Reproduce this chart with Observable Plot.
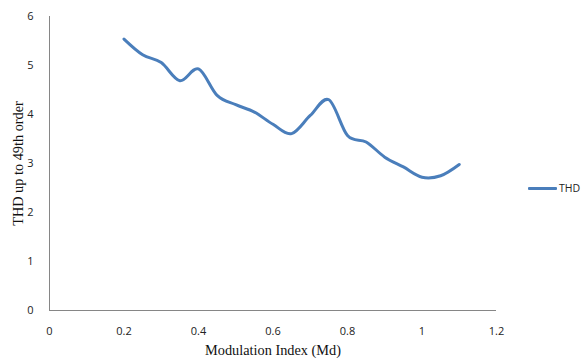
<!DOCTYPE html>
<html>
<head>
<meta charset="utf-8">
<script src="https://cdn.jsdelivr.net/npm/d3@7"></script>
<script src="https://cdn.jsdelivr.net/npm/@observablehq/plot@0.6"></script>
<style>
  html, body { margin: 0; padding: 0; background: #fff; }
  #wrap { position: relative; width: 584px; height: 358px; }
  #wrap svg { font-family: "Open Sans", "Liberation Sans", sans-serif; }
  [aria-label="y-axis label"] text, [aria-label="x-axis label"] text {
    font-family: "Liberation Serif", "DejaVu Serif", serif; font-size: 14.3px; fill: #111;
  }
  #legend { position: absolute; left: 528px; top: 181px; display: flex; align-items: center;
    font-family: "Open Sans", "Liberation Sans", sans-serif; font-size: 10.5px; color: #222; }
  #legend .sw { width: 29px; height: 3px; background: #4a7ebb; margin-right: 2px; border-radius: 1px; }
</style>
</head>
<body>
<div id="wrap"><div id="legend"><div class="sw"></div><span>THD</span></div></div>
<script>
const modIndex = [0.2, 0.25, 0.3, 0.35, 0.4, 0.45, 0.5, 0.55, 0.6, 0.65, 0.7, 0.75, 0.8, 0.85, 0.9, 0.95, 1.0, 1.05, 1.1];
const thd      = [5.54, 5.22, 5.06, 4.69, 4.93, 4.39, 4.20, 4.05, 3.80, 3.61, 3.98, 4.30, 3.57, 3.44, 3.13, 2.93, 2.72, 2.75, 2.98];
const xTicks = [0, 0.2, 0.4, 0.6, 0.8, 1, 1.2];
const yTicks = [0, 1, 2, 3, 4, 5, 6];
const seriesName = "THD";

const data = modIndex.map((m, i) => ({m, v: thd[i]}));
const axisColor = "#868686";

const chart = Plot.plot({
  width: 584,
  height: 358,
  marginLeft: 49,
  marginRight: 88,
  marginTop: 16,
  marginBottom: 48,
  x: {domain: [0, 1.2]},
  y: {domain: [0, 6]},
  marks: [
    Plot.ruleX([0], {stroke: axisColor}),
    Plot.ruleY([0], {stroke: axisColor}),
    Plot.axisX({ticks: xTicks, tickSize: 0, tickPadding: 17, tickFormat: d => String(+d.toFixed(1)), fontSize: 11, fill: "#222",
      label: "Modulation Index (Md)", labelAnchor: "center", labelArrow: "none", labelOffset: 44}),
    Plot.axisY({ticks: yTicks, tickSize: 0, tickPadding: 16, tickFormat: d => String(d), fontSize: 11, fill: "#222",
      label: "THD up to 49th order", labelAnchor: "center", labelArrow: "none", labelOffset: 37}),
    Plot.line(data, {x: "m", y: "v", stroke: "#4a7ebb", strokeWidth: 3, curve: "cardinal", tension: 0})
  ]
});
document.getElementById("wrap").prepend(chart);
</script>
</body>
</html>
